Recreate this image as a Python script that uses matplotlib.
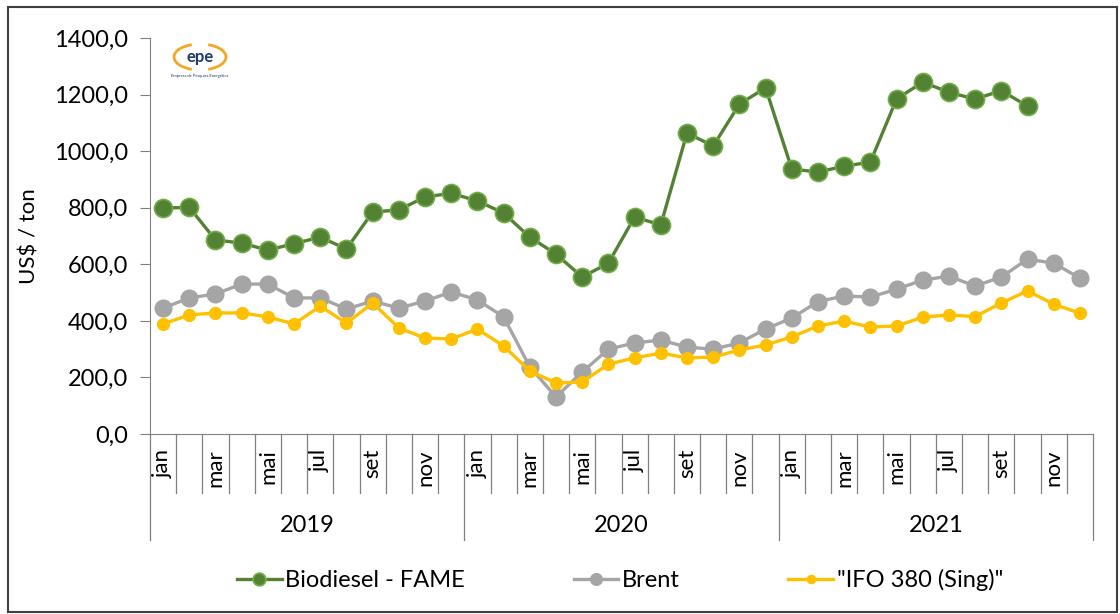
import matplotlib
matplotlib.use("Agg")
import matplotlib.pyplot as plt
from matplotlib.patches import Rectangle, Arc
import numpy as np

plt.rcParams['font.family'] = ['Lato', 'DejaVu Sans']

years = ['2019', '2020', '2021']
months = ['jan', 'fev', 'mar', 'abr', 'mai', 'jun', 'jul', 'ago', 'set', 'out', 'nov', 'dez']

# US$ / ton, jan/2019 .. dez/2021
biodiesel = [799, 801, 686, 675, 650, 673, 696, 654, 785, 792, 838, 851,
             824, 781, 696, 636, 555, 604, 767, 739, 1064, 1018, 1166, 1224,
             937, 926, 947, 961, 1184, 1244, 1208, 1184, 1214, 1159]
brent = [445, 481, 495, 530, 530, 481, 481, 442, 470, 445, 470, 502,
         474, 414, 237, 131, 219, 300, 322, 332, 307, 300, 322, 371,
         410, 468, 488, 484, 512, 544, 558, 523, 555, 618, 604, 551]
ifo380 = [389, 421, 428, 428, 414, 389, 452, 392, 463, 375, 339, 336,
          371, 311, 223, 180, 184, 247, 269, 286, 269, 272, 297, 315,
          343, 382, 399, 378, 382, 413, 421, 415, 463, 506, 459, 427]

W, H = 1120, 614
fig = plt.figure(figsize=(W / 100, H / 100), dpi=100)
ax = fig.add_axes([150 / W, 1 - 434 / H, 943 / W, 396 / H])

x_bio = np.arange(len(biodiesel))
x_all = np.arange(len(brent))

ax.plot(x_bio, biodiesel, color='#548235', lw=2.4, marker='o', ms=13,
        mfc='#548235', mec='#70AD47', mew=1.2, label='Biodiesel - FAME', zorder=3)
ax.plot(x_all, brent, color='#A5A5A5', lw=2.4, marker='o', ms=12,
        mfc='#A5A5A5', mec='#A5A5A5', label='Brent', zorder=2)
ax.plot(x_all, ifo380, color='#FFC000', lw=2.4, marker='o', ms=8.5,
        mfc='#FFC000', mec='#FFC000', label='"IFO 380 (Sing)"', zorder=4)

ax.set_xlim(-0.5, len(x_all) - 0.5)
ax.set_ylim(0, 1400)
ax.set_yticks(np.arange(0, 1401, 200))
ax.set_yticklabels([f'{v:.1f}'.replace('.', ',') for v in np.arange(0, 1401, 200)])
ax.tick_params(axis='y', labelsize=17, length=7, color='#808080', pad=9)
ax.set_xticks([])
ax.set_ylabel('US$ / ton', fontsize=16, labelpad=10)

for s in ['top', 'right']:
    ax.spines[s].set_visible(False)
ax.spines['left'].set_color('#808080')
ax.spines['bottom'].set_color('#808080')

# category axis: month separators, month labels, year groups
tr = ax.get_xaxis_transform()
month_depth = -(493 - 434) / 396
year_depth = -(540 - 434) / 396
n = len(x_all)
for i in range(n + 1):
    depth = year_depth if i % 12 == 0 else month_depth
    ax.plot([i - 0.5, i - 0.5], [0, depth], transform=tr, color='#808080',
            lw=0.9, clip_on=False)
for i in range(n):
    if i % 2 == 0:
        ax.text(i, -(449 - 434) / 396, months[i % 12], transform=tr, rotation=90,
                ha='center', va='top', fontsize=16)
for k, yr in enumerate(years):
    ax.text(12 * k + 5.5, -(525 - 434) / 396, yr, transform=tr,
            ha='center', va='center', fontsize=17)

fig.legend(loc='center', bbox_to_anchor=(620 / W, 1 - 580 / H), ncol=3,
           frameon=False, fontsize=17, columnspacing=4.6, handlelength=1.9,
           handletextpad=0.15, markerscale=0.7)

# epe logo
fig.text(200 / W, 1 - 57 / H, 'epe', color='#1F3A6E', fontsize=12,
         fontweight='bold', ha='center', va='center')
fig.patches.append(Arc((200 / W, 1 - 57 / H), 52 / W, 26 / H, theta1=110,
                       theta2=250, color='#F5A623', lw=2, transform=fig.transFigure))
fig.patches.append(Arc((200 / W, 1 - 57 / H), 52 / W, 26 / H, theta1=-70,
                       theta2=70, color='#F5A623', lw=2, transform=fig.transFigure))
fig.text(200 / W, 1 - 76 / H, 'Empresa de Pesquisa Energética', color='#1F3A6E',
         fontsize=3, ha='center', va='center')

# outer frame
fig.patches.append(Rectangle((8 / W, 2 / H), (1117 - 8) / W, (612 - 7) / H,
                             fill=False, ec='#404040', lw=1.5,
                             transform=fig.transFigure))

fig.savefig('out.png', dpi=100)
